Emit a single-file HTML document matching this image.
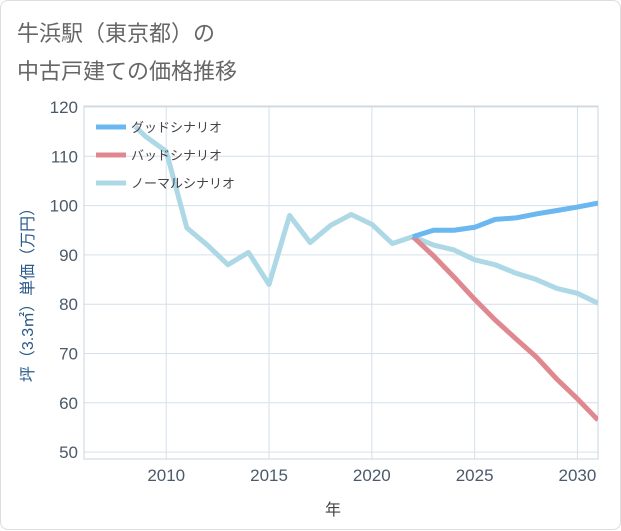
<!DOCTYPE html>
<html><head><meta charset="utf-8"><style>
body{margin:0;background:#fff;font-family:"Liberation Sans","Noto Sans CJK JP",sans-serif;}
#card{position:absolute;left:0;top:0;width:619px;height:528px;border:1px solid #ddd;border-radius:8px;background:#fff;}
</style></head><body>
<div id="card">
<svg id="chart" width="621" height="530" style="position:absolute;left:0;top:0">
<text x="16" y="40" font-size="22" fill="#666">牛浜駅（東京都）の</text>
<text x="16" y="78" font-size="22" fill="#666">中古戸建ての価格推移</text>
<g id="grid"></g><g id="lines"></g><g id="legend"></g>
<text x="332" y="514" font-size="16" fill="#444" text-anchor="middle">年</text>
<text transform="translate(32,290) rotate(-90)" font-size="16" fill="#2a5a8a" text-anchor="middle">坪（3.3㎡）単価（万円）</text>
</svg></div>
<script>
const years=[2008.5,2009,2010,2011,2012,2013,2014,2015,2016,2017,2018,2019,2020,2021,2022,2023,2024,2025,2026,2027,2028,2029,2030,2031];
const normal=[116,114,111,95.5,92,88,90.5,84,98,92.5,96,98.2,96.2,92.3,93.7,92,91,89,88,86.3,85,83.2,82.2,80.2];
const goodYears=[2022,2023,2024,2025,2026,2027,2028,2029,2030,2031];
const good=[93.7,95,95,95.6,97.2,97.5,98.3,99,99.7,100.5];
const bad=[93.7,89.8,85.5,81,76.8,73,69.3,64.8,60.8,56.5];
const xTicks=[2010,2015,2020,2025,2030];
const yTicks=[50,60,70,80,90,100,110,120];
const L=83,R=597,T=105,B=458,x0=2006,x1=2031,y0=48.6,y1=120.2;
const X=v=>L+(v-x0)/(x1-x0)*(R-L), Y=v=>B-(v-y0)/(y1-y0)*(B-T);
const NS="http://www.w3.org/2000/svg";
function mk(p,t,a){const e=document.createElementNS(NS,t);for(const k in a)e.setAttribute(k,a[k]);p.appendChild(e);return e;}
const g=document.getElementById('grid');
xTicks.forEach(v=>{const l=mk(g,'line',{x1:X(v),x2:X(v),y1:T,y2:B,stroke:'#d5e0ea'});

const t=mk(g,'text',{x:X(v),y:B+22,'font-size':17,fill:'#4a5a6a','text-anchor':'middle'});t.textContent=v;
});
yTicks.forEach(v=>{const l=mk(g,'line',{x1:L,x2:R,y1:Y(v),y2:Y(v),stroke:'#d5e0ea'});

const t=mk(g,'text',{x:L-6,y:Y(v)+6,'font-size':17,fill:'#4a5a6a','text-anchor':'end'});t.textContent=v;
});
const ax=mk(g,'rect',{x:L,y:T,width:R-L,height:B-T,fill:'none',stroke:'#c8d4de'});

const lg=document.getElementById('lines');
const cp=mk(lg,'clipPath',{id:'c'});mk(cp,'rect',{x:L,y:T,width:R-L,height:B-T});
function line(xs,ys,c,n){const p=mk(lg,'polyline',{points:xs.map((v,i)=>X(v)+','+Y(ys[i])).join(' '),fill:'none',stroke:c,'stroke-width':5,'stroke-linejoin':'round','clip-path':'url(#c)'});
}
line(years,normal,'#add8e6','normal-line');
line(goodYears,bad,'#e08890','bad-line');
line(goodYears,good,'#6bb8f0','good-line');
const leg=document.getElementById('legend');
[['グッドシナリオ','#6bb8f0','legend-good'],['バッドシナリオ','#e08890','legend-bad'],['ノーマルシナリオ','#add8e6','legend-normal']].forEach((d,i)=>{
const y=126+i*28;const l=mk(leg,'line',{x1:95,x2:125,y1:y,y2:y,stroke:d[1],'stroke-width':5});

const t=mk(leg,'text',{x:130,y:y+5,'font-size':13,fill:'#444'});t.textContent=d[0];
});
</script></body></html>
